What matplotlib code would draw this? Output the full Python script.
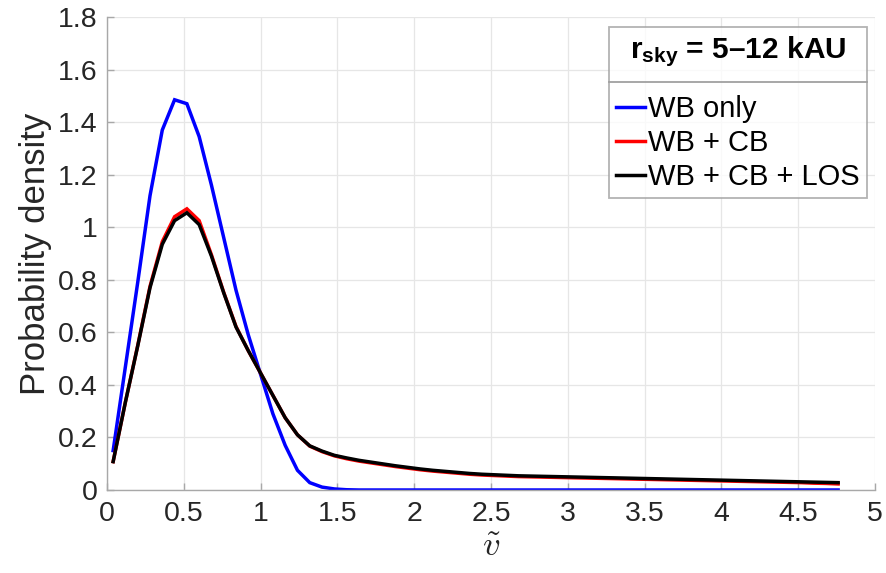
import numpy as np
import matplotlib
matplotlib.use("Agg")
import matplotlib.pyplot as plt
from matplotlib.ticker import FuncFormatter, MultipleLocator
from matplotlib.lines import Line2D

# ---------------- data ----------------
v_centers = [0.04, 0.12, 0.20, 0.28, 0.36, 0.44, 0.52, 0.60, 0.68, 0.76,
             0.84, 0.92, 1.00, 1.08, 1.16, 1.24, 1.32, 1.40, 1.48, 1.56,
             1.64, 1.72, 1.80, 1.88, 1.96, 2.04, 2.12, 2.20, 2.28, 2.36,
             2.44, 2.52, 2.60, 2.68, 2.76, 2.84, 2.92, 3.00, 3.08, 3.16,
             3.24, 3.32, 3.40, 3.48, 3.56, 3.64, 3.72, 3.80, 3.88, 3.96,
             4.04, 4.12, 4.20, 4.28, 4.36, 4.44, 4.52, 4.60, 4.68, 4.76]

wb_only = [0.150, 0.470, 0.790, 1.120, 1.370, 1.485, 1.470, 1.345, 1.160, 0.960,
           0.760, 0.590, 0.440, 0.290, 0.170, 0.075, 0.028, 0.011, 0.004, 0.001,
           0.0, 0.0, 0.0, 0.0, 0.0, 0.0, 0.0, 0.0, 0.0, 0.0,
           0.0, 0.0, 0.0, 0.0, 0.0, 0.0, 0.0, 0.0, 0.0, 0.0,
           0.0, 0.0, 0.0, 0.0, 0.0, 0.0, 0.0, 0.0, 0.0, 0.0,
           0.0, 0.0, 0.0, 0.0, 0.0, 0.0, 0.0, 0.0, 0.0, 0.0]

wb_cb = [0.108, 0.335, 0.550, 0.775, 0.945, 1.040, 1.070, 1.025, 0.895, 0.752,
         0.622, 0.530, 0.445, 0.360, 0.275, 0.210, 0.167, 0.146, 0.130, 0.119,
         0.110, 0.103, 0.096, 0.089, 0.083, 0.077, 0.072, 0.068, 0.064, 0.060,
         0.057, 0.055, 0.053, 0.051, 0.050, 0.049, 0.048, 0.047, 0.046, 0.045,
         0.044, 0.043, 0.042, 0.041, 0.040, 0.039, 0.038, 0.037, 0.036, 0.035,
         0.034, 0.033, 0.032, 0.031, 0.030, 0.029, 0.028, 0.026, 0.025, 0.023]

wb_cb_los = [0.108, 0.335, 0.548, 0.770, 0.935, 1.025, 1.055, 1.010, 0.890, 0.750,
             0.620, 0.530, 0.445, 0.360, 0.275, 0.210, 0.168, 0.148, 0.132, 0.122,
             0.113, 0.106, 0.099, 0.092, 0.086, 0.080, 0.075, 0.071, 0.067, 0.063,
             0.060, 0.058, 0.056, 0.054, 0.053, 0.052, 0.051, 0.050, 0.049, 0.048,
             0.047, 0.046, 0.045, 0.044, 0.043, 0.042, 0.041, 0.040, 0.039, 0.038,
             0.037, 0.036, 0.035, 0.034, 0.033, 0.032, 0.031, 0.030, 0.029, 0.028]

series_labels = ["WB only", "WB + CB", "WB + CB + LOS"]
series_colors = ["#0000ff", "#ff0000", "#000000"]
legend_title = r"r$_{\mathbf{sky}}$ = 5–12 kAU"
x_label = r"$\tilde{v}$"
y_label = "Probability density"

# ---------------- style ----------------
plt.rcParams["font.family"] = ["Liberation Sans", "DejaVu Sans"]
plt.rcParams["mathtext.fontset"] = "custom"
plt.rcParams["mathtext.rm"] = "Liberation Sans"
plt.rcParams["mathtext.bf"] = "Liberation Sans:bold"
plt.rcParams["mathtext.it"] = "Liberation Sans:italic"

fig = plt.figure(figsize=(8.87, 5.73), dpi=100)
W, H = 887, 573
ax = fig.add_axes([107 / W, 1 - 490 / H, (875 - 107) / W, (490 - 17) / H])

for y, lab, col in zip([wb_only, wb_cb, wb_cb_los], series_labels, series_colors):
    ax.plot(v_centers, y, color=col, lw=2.5, label=lab, solid_joinstyle="miter")

ax.set_xlim(0, 5)
ax.set_ylim(0, 1.8)
ax.xaxis.set_major_locator(MultipleLocator(0.5))
ax.yaxis.set_major_locator(MultipleLocator(0.2))
fmt = FuncFormatter(lambda v, p: "%g" % round(v, 2))
ax.xaxis.set_major_formatter(fmt)
ax.yaxis.set_major_formatter(fmt)

ax.grid(True, color="#e6e6e6", lw=0.9)
ax.set_axisbelow(True)
for s in ["top", "right"]:
    ax.spines[s].set_visible(False)
for s in ["left", "bottom"]:
    ax.spines[s].set_color("#a8a8a8")
    ax.spines[s].set_linewidth(1.0)
ax.tick_params(direction="in", length=5, width=1.0, color="#a8a8a8",
               labelsize=20.5, labelcolor="#262626")
ax.tick_params(axis="y", pad=7)
ax.tick_params(axis="x", pad=8)

ax.set_ylabel(y_label, fontsize=25, color="#262626", labelpad=4)
xl = ax.set_xlabel(x_label, fontsize=25, color="#262626", labelpad=2)
xl.set_math_fontfamily("cm")
tt = ax.set_title(x_label, fontsize=25, color="#262626", pad=13)
tt.set_math_fontfamily("cm")

leg = ax.legend(loc="upper right", bbox_to_anchor=(867 / W, 1 - 27 / H),
                bbox_transform=fig.transFigure, borderaxespad=0,
                title=legend_title, fontsize=21, frameon=True, fancybox=False,
                edgecolor="#a0a0a0", handlelength=1.0, handletextpad=0.1,
                borderpad=0.25, labelspacing=0.2)
leg.get_frame().set_linewidth(1.3)
ttl = leg.get_title()
ttl.set_fontsize(21.5)
ttl.set_fontweight("bold")
leg._legend_box.sep = 19

fig.canvas.draw()
r = fig.canvas.get_renderer()
fb = leg.get_frame().get_window_extent(r)
tb = ttl.get_window_extent(r)
eb = leg.get_texts()[0].get_window_extent(r)
ydiv = 0.5 * (tb.y0 + eb.y1)
inv = fig.transFigure.inverted()
(x0, y0), (x1, _) = inv.transform([(fb.x0, ydiv), (fb.x1, ydiv)])
fig.add_artist(Line2D([x0, x1], [y0, y0], transform=fig.transFigure,
                      color="#a0a0a0", lw=1.3))

fig.savefig("out.png", dpi=100)
